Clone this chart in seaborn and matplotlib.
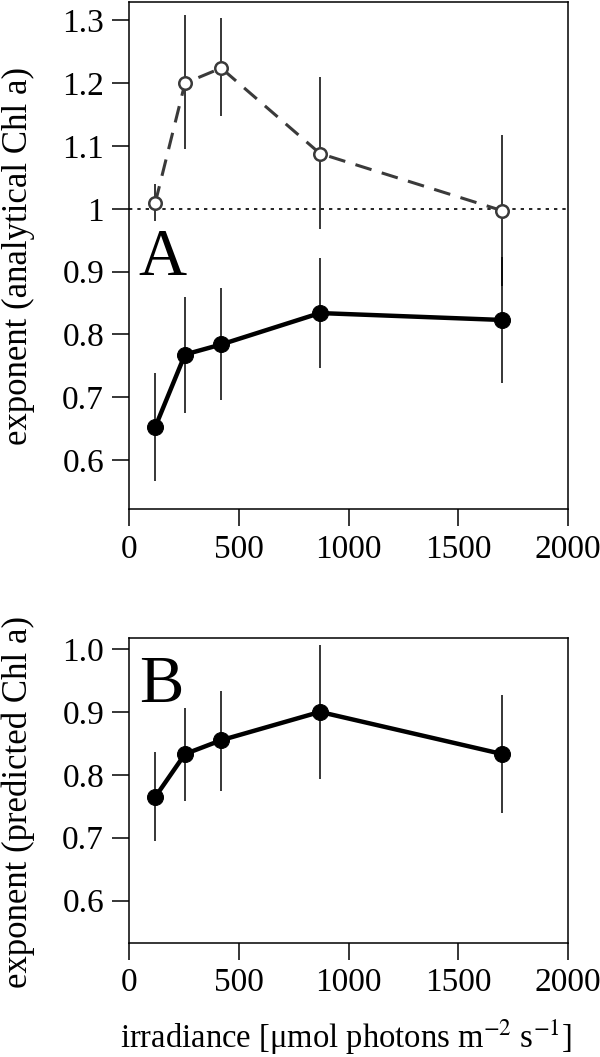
import numpy as np
import pandas as pd
import seaborn as sns
import matplotlib
matplotlib.use('Agg')
import matplotlib.pyplot as plt

# irradiance levels
irradiance = [120, 255, 420, 870, 1700]

# panel A, open circles (dashed)
open_a = [1.010, 1.200, 1.224, 1.088, 0.997]
open_a_lo = [0.980, 1.095, 1.147, 0.968, 0.877]
open_a_hi = [1.040, 1.308, 1.303, 1.209, 1.117]

# panel A, filled circles
fill_a = [0.653, 0.768, 0.784, 0.834, 0.823]
fill_a_lo = [0.567, 0.675, 0.695, 0.747, 0.723]
fill_a_hi = [0.739, 0.860, 0.874, 0.921, 0.923]

# panel B
fill_b = [0.765, 0.833, 0.855, 0.900, 0.833]
fill_b_lo = [0.695, 0.759, 0.775, 0.793, 0.740]
fill_b_hi = [0.837, 0.906, 0.934, 1.006, 0.927]

sns.set_style('ticks')
plt.rcParams['font.family'] = ['Liberation Serif', 'DejaVu Serif']
plt.rcParams['mathtext.fontset'] = 'stix'
plt.rcParams['axes.linewidth'] = 1.1
plt.rcParams['text.color'] = 'black'
plt.rcParams['axes.labelcolor'] = 'black'
plt.rcParams['xtick.color'] = 'black'
plt.rcParams['ytick.color'] = 'black'
plt.rcParams['axes.edgecolor'] = 'black'

fig = plt.figure(figsize=(6, 10.57), dpi=100)
ax1 = fig.add_axes([0.215, 0.5184, 0.7317, 0.4796])
ax2 = fig.add_axes([0.215, 0.1081, 0.7317, 0.2886])

df_a = pd.DataFrame({'x': irradiance, 'open': open_a, 'fill': fill_a})
df_b = pd.DataFrame({'x': irradiance, 'fill': fill_b})

# panel A
ax1.axhline(1.0, color='black', ls=(0, (2, 3)), lw=1.2, zorder=1)
ax1.vlines(irradiance, open_a_lo, open_a_hi, color='black', lw=1.1, zorder=2)
ax1.vlines(irradiance, fill_a_lo, fill_a_hi, color='black', lw=1.1, zorder=2)
sns.lineplot(data=df_a, x='x', y='open', ax=ax1, color='#3a3a3a', lw=2.2,
             dashes=False, linestyle=(0, (5.5, 3.5)), marker='o', markersize=9,
             markerfacecolor='white', markeredgecolor='#3a3a3a', markeredgewidth=1.8,
             zorder=3)
sns.lineplot(data=df_a, x='x', y='fill', ax=ax1, color='black', lw=3.2,
             marker='o', markersize=11.5, markeredgecolor='black', zorder=3)
ax1.set_xlim(0, 2000)
ax1.set_ylim(0.522, 1.329)
ax1.set_yticks([0.6, 0.7, 0.8, 0.9, 1.0, 1.1, 1.2, 1.3])
ax1.set_yticklabels(['0.6', '0.7', '0.8', '0.9', '1', '1.1', '1.2', '1.3'])
ax1.text(0.022, 0.4615, 'A', transform=ax1.transAxes, fontsize=48, va='baseline', ha='left')
ax1.set_ylabel('exponent (analytical Chl a)', fontsize=25)
ax1.yaxis.set_label_coords(-0.215, 0.5)
ax1.set_xlabel('')

# panel B
ax2.vlines(irradiance, fill_b_lo, fill_b_hi, color='black', lw=1.1, zorder=2)
sns.lineplot(data=df_b, x='x', y='fill', ax=ax2, color='black', lw=3.2,
             marker='o', markersize=11.5, markeredgecolor='black', zorder=3)
ax2.set_xlim(0, 2000)
ax2.set_ylim(0.533, 1.018)
ax2.set_yticks([0.6, 0.7, 0.8, 0.9, 1.0])
ax2.set_yticklabels(['0.6', '0.7', '0.8', '0.9', '1.0'])
ax2.text(0.022, 0.789, 'B', transform=ax2.transAxes, fontsize=48, va='baseline', ha='left')
ax2.set_ylabel('exponent (predicted Chl a)', fontsize=25)
ax2.yaxis.set_label_coords(-0.215, 0.46)
ax2.set_xlabel(r'irradiance [μmol photons m$^{-2}$ s$^{-1}$]', fontsize=23.5)
ax2.xaxis.set_label_coords(0.494, -0.245)
ax2.xaxis.label.set_va('top')

for ax in (ax1, ax2):
    ax.set_xticks([0, 500, 1000, 1500, 2000])
    ax.tick_params(axis='both', labelsize=24, length=12, width=1.1, pad=6, direction='out')
    ax.tick_params(top=False, right=False)
    for s in ax.spines.values():
        s.set_visible(True)
        s.set_color('black')

fig.savefig('out.png', dpi=100)
